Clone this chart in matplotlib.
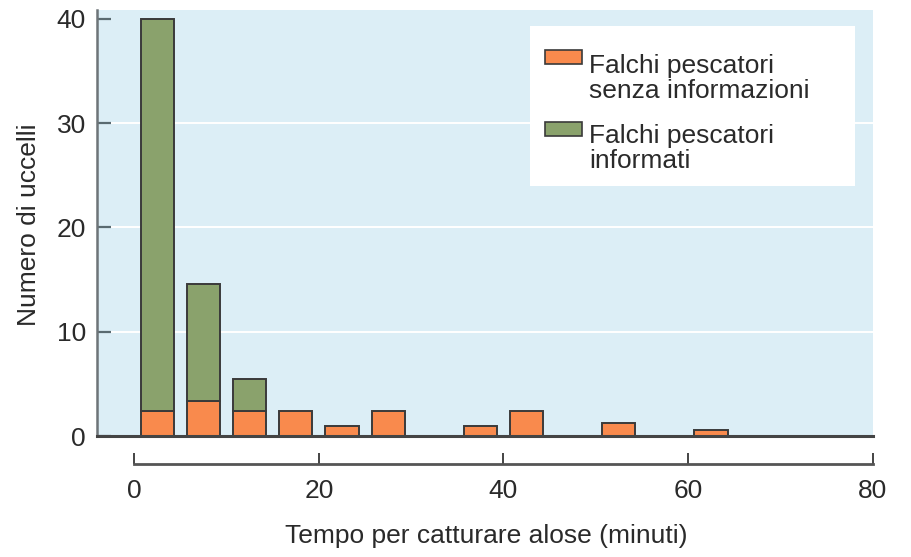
import numpy as np
import matplotlib.pyplot as plt
from matplotlib.patches import Rectangle

plt.rcParams['font.family'] = ['Liberation Sans', 'DejaVu Sans']

# bin centres (minutes) and counts
tempo = np.array([2.5, 7.5, 12.5, 17.5, 22.5, 27.5, 37.5, 42.5, 52.5, 62.5])
senza_info = np.array([2.4, 3.4, 2.4, 2.4, 1.0, 2.4, 1.0, 2.4, 1.2, 0.6])
informati = np.array([37.6, 11.2, 3.1, 0, 0, 0, 0, 0, 0, 0])

x_ticks = [0, 20, 40, 60, 80]
y_ticks = [0, 10, 20, 30, 40]
legend_labels = [["Falchi pescatori", "senza informazioni"],
                 ["Falchi pescatori", "informati"]]

ORANGE = '#F98A4D'
GREEN = '#8AA26C'
BG = '#DCEEF6'
EDGE = '#3A3A3A'
TXT = '#2a2a2a'
W, H = 912, 557

fig = plt.figure(figsize=(W / 100, H / 100), dpi=100)
ax = fig.add_axes([97 / W, 1 - 436 / H, 776 / W, 426 / H])
ax.set_facecolor(BG)

ax.set_xlim(-4.05, 80.05)
ax.set_ylim(0, 40.85)

# white grid lines
for yv in y_ticks[1:-1]:
    ax.axhline(yv, color='white', lw=1.4, zorder=1)

ax.bar(tempo, senza_info, width=3.6, color=ORANGE, edgecolor=EDGE, lw=1.4, zorder=3)
m = informati > 0
ax.bar(tempo[m], informati[m], width=3.6, bottom=senza_info[m], color=GREEN,
       edgecolor=EDGE, lw=1.4, zorder=3)

ax.axhline(0, color='#444444', lw=2.2, zorder=4, clip_on=False)

for s in ['top', 'right']:
    ax.spines[s].set_visible(False)
ax.spines['left'].set_color('#6d7478')
ax.spines['left'].set_linewidth(1.8)
ax.spines['bottom'].set_position(('outward', 20.2))
ax.spines['bottom'].set_bounds(0, 80)
ax.spines['bottom'].set_color('#555555')
ax.spines['bottom'].set_linewidth(2)

ax.set_xticks(x_ticks)
ax.set_yticks(y_ticks)
ax.tick_params(axis='x', direction='in', length=8, width=1.4, color='#444444',
               pad=11, labelsize=19, labelcolor=TXT)
ax.tick_params(axis='y', direction='in', length=10, width=1.6, color='#5a6a70',
               pad=8, labelsize=19, labelcolor=TXT)

ax.set_ylabel('Numero di uccelli', fontsize=19, color=TXT)
ax.yaxis.set_label_coords(-0.072, 0.495)
fig.text(486.5 / W, 1 - 543 / H, 'Tempo per catturare alose (minuti)',
         fontsize=19, color=TXT, ha='center', va='baseline')

# legend drawn by hand (handles aligned to the first line of each label)
def fx(x):
    return x / W


def fy(y):
    return 1 - y / H


fig.patches.append(Rectangle((fx(530), fy(186)), 325 / W, 160 / H,
                             transform=fig.transFigure, facecolor='white',
                             edgecolor='none', zorder=5))
for col, top, lines, base in [(ORANGE, 50, legend_labels[0], 72.5),
                              (GREEN, 122, legend_labels[1], 143)]:
    fig.patches.append(Rectangle((fx(545), fy(top + 13.5)), 37 / W, 13.5 / H,
                                 transform=fig.transFigure, facecolor=col,
                                 edgecolor=EDGE, lw=1.2, zorder=6))
    for i, t in enumerate(lines):
        fig.text(fx(589), fy(base + i * 25.5), t, fontsize=19, color=TXT,
                 ha='left', va='baseline', zorder=7)

fig.savefig('out.png', dpi=100)
